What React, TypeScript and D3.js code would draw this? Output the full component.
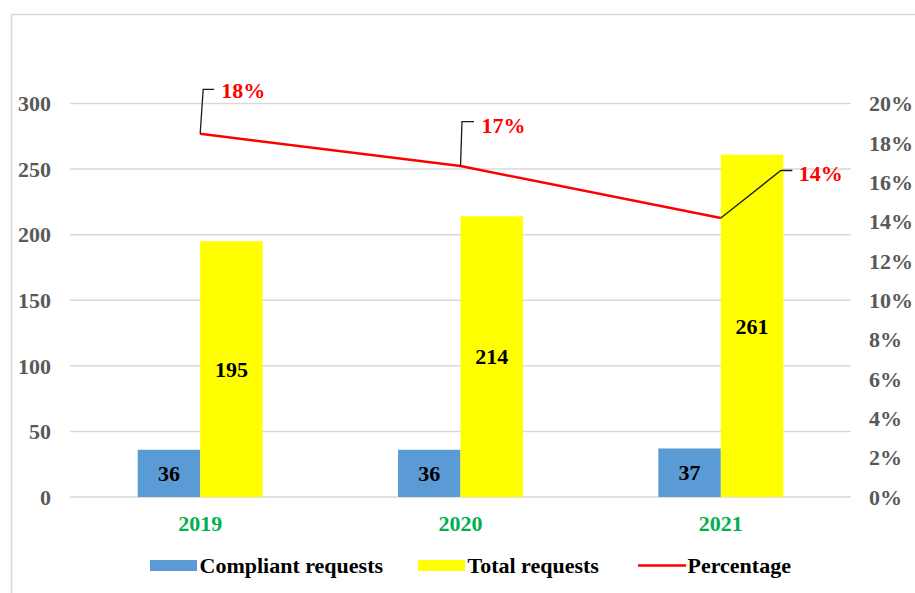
import * as d3 from 'd3';
import { useRef, useEffect } from 'react';

const years = ['2019', '2020', '2021'];
const compliant = [36, 36, 37];
const total = [195, 214, 261];
const percentage = [0.1846, 0.1682, 0.1418];
const percentLabels = ['18%', '17%', '14%'];
const leftTicks = [0, 50, 100, 150, 200, 250, 300];
const rightTicks = [0, 0.02, 0.04, 0.06, 0.08, 0.1, 0.12, 0.14, 0.16, 0.18, 0.2];

const seriesNames = ['Compliant requests', 'Total requests', 'Percentage'];

const App = () => {
  const svgRef = useRef<SVGSVGElement>(null);

  useEffect(() => {
    const svg = d3.select(svgRef.current);
    const width = 915;
    const height = 593;
    const margin = { top: 103.5, right: 64, bottom: 96, left: 70 };
    const font = '"Liberation Serif", "Times New Roman", serif';
    const fs = 22;

    svg.attr('width', width).attr('height', height);
    svg.selectAll('*').remove();

    svg.append('rect')
      .attr('x', 11.5).attr('y', 14.5)
      .attr('width', 920).attr('height', 600)
      .attr('fill', 'white')
      .attr('stroke', '#d9d9d9')
      .attr('stroke-width', 1.5);

    const x = d3.scaleBand()
      .domain(years)
      .range([margin.left, width - margin.right])
      .paddingInner(0.52)
      .paddingOuter(0.26);

    const xInner = d3.scaleBand()
      .domain(['c', 't'])
      .range([0, x.bandwidth()]);

    const y = d3.scaleLinear()
      .domain([0, 300])
      .range([height - margin.bottom, margin.top]);

    const yRight = d3.scaleLinear()
      .domain([0, 0.2])
      .range([height - margin.bottom, margin.top]);

    // gridlines
    svg.append('g')
      .selectAll('line')
      .data(leftTicks)
      .enter().append('line')
      .attr('x1', margin.left)
      .attr('x2', width - margin.right)
      .attr('y1', d => y(d))
      .attr('y2', d => y(d))
      .attr('stroke', '#d9d9d9')
      .attr('stroke-width', 1.5);

    // left axis labels
    svg.append('g')
      .selectAll('text')
      .data(leftTicks)
      .enter().append('text')
      .attr('x', 51)
      .attr('y', d => y(d))
      .attr('dy', '0.35em')
      .attr('text-anchor', 'end')
      .style('font-family', font)
      .style('font-weight', 'bold')
      .style('font-size', fs + 'px')
      .style('fill', '#595959')
      .text(d => d);

    // right axis labels
    svg.append('g')
      .selectAll('text')
      .data(rightTicks)
      .enter().append('text')
      .attr('x', 869)
      .attr('y', d => yRight(d))
      .attr('dy', '0.35em')
      .attr('text-anchor', 'start')
      .style('font-family', font)
      .style('font-weight', 'bold')
      .style('font-size', fs + 'px')
      .style('fill', '#595959')
      .text(d => d3.format('.0%')(d));

    // bars
    const groups = svg.append('g')
      .selectAll('g')
      .data(years)
      .enter().append('g')
      .attr('transform', d => `translate(${x(d)},0)`);

    groups.append('rect')
      .attr('x', xInner('c'))
      .attr('y', (d, i) => y(compliant[i]))
      .attr('width', xInner.bandwidth())
      .attr('height', (d, i) => y(0) - y(compliant[i]))
      .attr('fill', '#5b9bd5');

    groups.append('rect')
      .attr('x', xInner('t'))
      .attr('y', (d, i) => y(total[i]))
      .attr('width', xInner.bandwidth())
      .attr('height', (d, i) => y(0) - y(total[i]))
      .attr('fill', '#ffff00');

    groups.append('text')
      .attr('x', xInner('c') + xInner.bandwidth() / 2)
      .attr('y', (d, i) => (y(compliant[i]) + y(0)) / 2)
      .attr('dy', '0.35em')
      .attr('text-anchor', 'middle')
      .style('font-family', font)
      .style('font-weight', 'bold')
      .style('font-size', fs + 'px')
      .text((d, i) => compliant[i]);

    groups.append('text')
      .attr('x', xInner('t') + xInner.bandwidth() / 2)
      .attr('y', (d, i) => (y(total[i]) + y(0)) / 2)
      .attr('dy', '0.35em')
      .attr('text-anchor', 'middle')
      .style('font-family', font)
      .style('font-weight', 'bold')
      .style('font-size', fs + 'px')
      .text((d, i) => total[i]);

    // x labels
    svg.append('g')
      .selectAll('text')
      .data(years)
      .enter().append('text')
      .attr('x', d => x(d) + x.bandwidth() / 2)
      .attr('y', 530.5)
      .attr('text-anchor', 'middle')
      .style('font-family', font)
      .style('font-weight', 'bold')
      .style('font-size', fs + 'px')
      .style('fill', '#00b050')
      .text(d => d);

    // percentage line
    const cx = (i: number) => x(years[i]) + x.bandwidth() / 2;
    const line = d3.line<number>()
      .x((d, i) => cx(i))
      .y(d => yRight(d));

    svg.append('path')
      .datum(percentage)
      .attr('d', line)
      .attr('fill', 'none')
      .attr('stroke', '#ff0000')
      .attr('stroke-width', 2.5);

    // leader lines + labels (offsets from the point)
    const leaders = [
      { elbow: [3, -44.5], end: [14, -44.5], text: [21, -43] },
      { elbow: [1.5, -44.5], end: [13.5, -44.5], text: [21, -41] },
      { elbow: [60, -47.5], end: [71.5, -47.5], text: [78, -45] },
    ];

    percentage.forEach((p, i) => {
      const px = cx(i);
      const py = yRight(p);
      const L = leaders[i];
      svg.append('path')
        .attr('d', `M${px},${py}L${px + L.elbow[0]},${py + L.elbow[1]}L${px + L.end[0]},${py + L.end[1]}`)
        .attr('fill', 'none')
        .attr('stroke', '#1a1a1a')
        .attr('stroke-width', 1.3);
      svg.append('text')
        .attr('x', px + L.text[0])
        .attr('y', py + L.text[1])
        .attr('dy', '0.35em')
        .style('font-family', font)
        .style('font-weight', 'bold')
        .style('font-size', fs + 'px')
        .style('fill', '#ff0000')
        .text(percentLabels[i]);
    });

    // legend
    const legendY = 565.5;
    const legend = svg.append('g');
    const items = [
      { x: 150, type: 'rect', color: '#5b9bd5' },
      { x: 418, type: 'rect', color: '#ffff00' },
      { x: 638, type: 'line', color: '#ff0000' },
    ];
    items.forEach((it, i) => {
      if (it.type === 'rect') {
        legend.append('rect')
          .attr('x', it.x).attr('y', legendY - 5.5)
          .attr('width', 47).attr('height', 11)
          .attr('fill', it.color);
      } else {
        legend.append('line')
          .attr('x1', it.x).attr('x2', it.x + 48)
          .attr('y1', legendY).attr('y2', legendY)
          .attr('stroke', it.color)
          .attr('stroke-width', 2.5);
      }
      legend.append('text')
        .attr('x', it.x + 49.5)
        .attr('y', legendY)
        .attr('dy', '0.35em')
        .style('font-family', font)
        .style('font-weight', 'bold')
        .style('font-size', fs + 'px')
        .style('fill', '#000')
        .text(seriesNames[i]);
    });
  }, []);

  return (
    <div style={{ position: 'absolute', left: 0, top: 0 }}>
      <svg ref={svgRef} style={{ display: 'block' }}></svg>
    </div>
  );
};

export default App;
